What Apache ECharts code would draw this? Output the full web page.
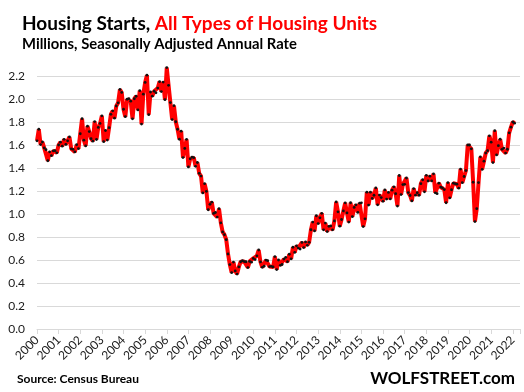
<!DOCTYPE html>
<html><head><meta charset="utf-8">
<script src="https://cdn.jsdelivr.net/npm/echarts@6/dist/echarts.min.js"></script>
<style>html,body{margin:0;padding:0;background:#fff}#c{width:524px;height:392px}</style>
</head><body><div id="c"></div>
<script>
// Monthly housing starts, millions SAAR, Jan 2000 .. Feb 2022
const startYear = 2000;
const yearTicks = ['2000','2001','2002','2003','2004','2005','2006','2007','2008','2009','2010','2011','2012','2013','2014','2015','2016','2017','2018','2019','2020','2021','2022'];
const yTicks = [0,0.2,0.4,0.6,0.8,1.0,1.2,1.4,1.6,1.8,2.0,2.2];
const s2000 = [1.636,1.737,1.604,1.626,1.575,1.559,1.463,1.541,1.507,1.549,1.551,1.532];
const s2001 = [1.600,1.625,1.590,1.649,1.605,1.636,1.670,1.567,1.562,1.540,1.602,1.568];
const s2002 = [1.698,1.829,1.642,1.592,1.764,1.717,1.655,1.633,1.804,1.648,1.753,1.788];
const s2003 = [1.854,1.629,1.726,1.643,1.751,1.867,1.897,1.833,1.939,1.967,2.083,2.057];
const s2004 = [1.911,1.846,1.998,2.003,1.981,1.828,2.002,2.024,1.905,2.072,1.782,2.042];
const s2005 = [2.144,2.207,1.864,2.061,2.025,2.068,2.054,2.095,2.151,2.065,2.147,1.994];
const s2006 = [2.273,2.119,1.969,1.821,1.942,1.802,1.737,1.650,1.720,1.491,1.570,1.649];
const s2007 = [1.409,1.480,1.495,1.490,1.415,1.448,1.354,1.330,1.183,1.264,1.197,1.037];
const s2008 = [1.084,1.103,1.005,1.013,0.973,1.046,0.923,0.844,0.820,0.777,0.652,0.560];
const s2009 = [0.490,0.582,0.505,0.478,0.540,0.585,0.594,0.586,0.585,0.534,0.588,0.581];
const s2010 = [0.614,0.604,0.636,0.687,0.583,0.536,0.546,0.599,0.594,0.543,0.545,0.539];
const s2011 = [0.630,0.517,0.600,0.554,0.561,0.608,0.623,0.585,0.650,0.610,0.711,0.666];
const s2012 = [0.723,0.704,0.695,0.753,0.708,0.757,0.728,0.754,0.863,0.930,0.853,0.985];
const s2013 = [0.917,0.967,1.006,0.862,0.921,0.847,0.893,0.896,0.862,0.940,1.105,1.019];
const s2014 = [0.894,0.952,1.027,1.097,1.009,0.930,1.098,0.977,1.057,1.080,1.014,1.094];
const s2015 = [1.097,0.891,0.958,1.190,1.078,1.190,1.135,1.163,1.227,1.080,1.165,1.143];
const s2016 = [1.110,1.209,1.130,1.188,1.131,1.207,1.236,1.176,1.069,1.335,1.169,1.256];
const s2017 = [1.258,1.313,1.186,1.161,1.114,1.221,1.164,1.185,1.163,1.264,1.298,1.193];
const s2018 = [1.336,1.287,1.329,1.288,1.349,1.184,1.177,1.268,1.234,1.227,1.212,1.098];
const s2019 = [1.273,1.140,1.211,1.268,1.264,1.259,1.225,1.391,1.272,1.326,1.378,1.600];
const s2020 = [1.600,1.567,1.276,0.934,1.046,1.273,1.497,1.388,1.459,1.530,1.551,1.680];
const s2021 = [1.625,1.447,1.725,1.514,1.594,1.650,1.562,1.573,1.530,1.563,1.706,1.755];
const s2022 = [1.800,1.790];

const values = [].concat(s2000,s2001,s2002,s2003,s2004,s2005,s2006,s2007,s2008,s2009,s2010,s2011,s2012,s2013,s2014,s2015,s2016,s2017,s2018,s2019,s2020,s2021,s2022);
const seriesData = values.map((v,i)=>[i,v]);

const font = 'Lato, "Noto Sans", sans-serif';
const chart = echarts.init(document.getElementById('c'), null, {renderer:'canvas'});
chart.setOption({
  animation:false,
  backgroundColor:'#fff',
  title:{
    left:17, top:9,
    text:'{a|Housing Starts, }{b|All Types of Housing Units}',
    subtext:'Millions, Seasonally Adjusted Annual Rate',
    itemGap:4,
    textStyle:{rich:{
      a:{fontFamily:font,fontWeight:'bold',fontSize:19,color:'#000'},
      b:{fontFamily:font,fontWeight:'bold',fontSize:19,color:'#ff0000'}
    }},
    subtextStyle:{fontFamily:font,fontWeight:'bold',fontSize:14.8,color:'#000'}
  },
  grid:{left:37,right:4,top:76,bottom:63,containLabel:false},
  xAxis:{
    type:'value', min:0, max:268, interval:12,
    axisLine:{show:true,lineStyle:{color:'#d9d9d9',width:1}},
    axisTick:{show:true,length:5,lineStyle:{color:'#d9d9d9'}},
    splitLine:{show:false},
    axisLabel:{
      rotate:45, margin:9, fontFamily:font, fontSize:12, color:'#1a1a1a',
      formatter:(v)=>{const k=Math.round(v/12); return (v%12===0 && k<yearTicks.length)? yearTicks[k] : '';}
    }
  },
  yAxis:{
    type:'value', min:0, max:2.2, interval:0.2,
    axisLine:{show:false}, axisTick:{show:false},
    splitLine:{lineStyle:{color:'#d9d9d9',width:1}},
    axisLabel:{margin:12,fontFamily:font,fontSize:12,color:'#1a1a1a',
      formatter:(v)=>{const t=yTicks.find(x=>Math.abs(x-v)<1e-6); return (t===undefined?v:t).toFixed(1);}}
  },
  series:[{
    type:'line', data:seriesData, clip:false,
    lineStyle:{color:'#ff0000',width:4},
    symbol:'circle', symbolSize:2.8, showSymbol:true,
    itemStyle:{color:'#111',borderWidth:0}
  }],
  graphic:[
    {type:'text',left:17,top:373,style:{text:'Source: Census Bureau',fontFamily:font,fontWeight:'bold',fontSize:12,fill:'#000'}},
    {type:'text',right:9,top:370,style:{text:'WOLFSTREET.com',fontFamily:font,fontWeight:'bold',fontSize:17,fill:'#000'}}
  ]
});
</script></body></html>
